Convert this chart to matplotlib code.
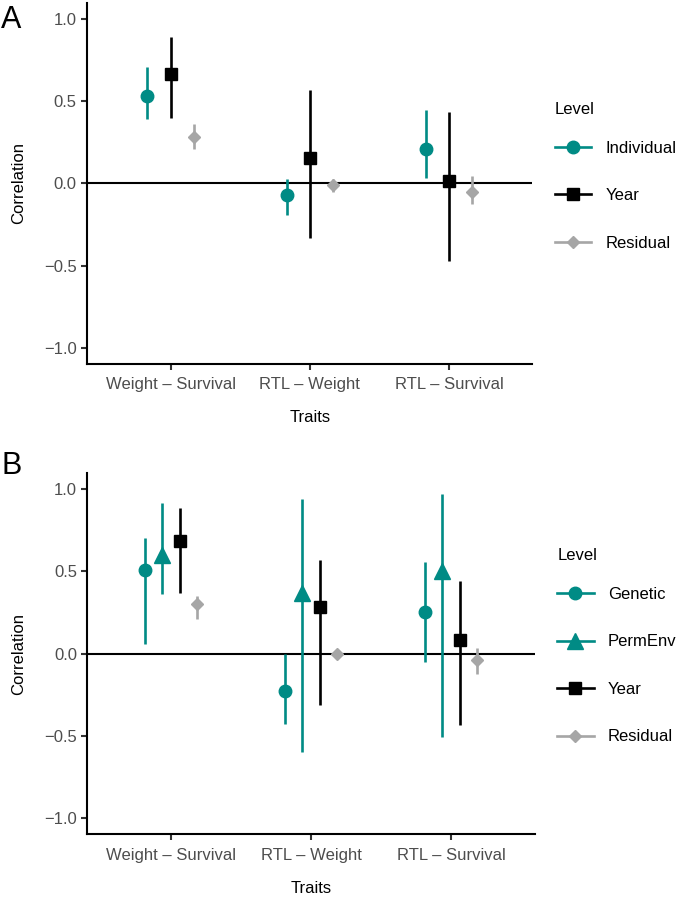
import matplotlib
matplotlib.use("Agg")
import matplotlib.pyplot as plt
from matplotlib.lines import Line2D
import numpy as np

plt.rcParams['font.family'] = ['Liberation Sans', 'DejaVu Sans']

traits = ["Weight \u2013 Survival", "RTL \u2013 Weight", "RTL \u2013 Survival"]

# panel A: phenotypic partitioning
levels_a = ["Individual", "Year", "Residual"]
est_a = [[0.53, -0.07, 0.21],
         [0.67, 0.155, 0.015],
         [0.285, -0.01, -0.05]]
low_a = [[0.39, -0.19, 0.035],
         [0.40, -0.335, -0.475],
         [0.21, -0.055, -0.125]]
up_a = [[0.71, 0.03, 0.445],
        [0.895, 0.57, 0.435],
        [0.365, 0.025, 0.045]]

# panel B: animal model
levels_b = ["Genetic", "PermEnv", "Year", "Residual"]
est_b = [[0.51, -0.23, 0.25],
         [0.60, 0.37, 0.50],
         [0.685, 0.285, 0.085],
         [0.30, 0.0, -0.04]]
low_b = [[0.06, -0.43, -0.05],
         [0.36, -0.60, -0.51],
         [0.37, -0.315, -0.435],
         [0.21, -0.03, -0.125]]
up_b = [[0.70, 0.0, 0.555],
        [0.915, 0.94, 0.97],
        [0.885, 0.57, 0.44],
        [0.35, 0.03, 0.035]]

teal = "#008B85"
grey = "#A6A6A6"
style = {"Individual": (teal, "o", 9),
         "Genetic": (teal, "o", 9),
         "PermEnv": (teal, "^", 11),
         "Year": ("black", "s", 8),
         "Residual": (grey, "D", 6.5)}
fs = 12


def panel(ax, levels, est, low, up):
    x = np.arange(1, len(traits) + 1)
    n = len(levels)
    width = 0.5
    ax.axhline(0, color="black", lw=1.5, zorder=1)
    for i, lev in enumerate(levels):
        off = -width / 2 + width / n * (i + 0.5)
        col, mk, ms = style[lev]
        e = np.array(est[i])
        ax.vlines(x + off, low[i], up[i], color=col, lw=1.9, zorder=2)
        ax.plot(x + off, e, ls="none", marker=mk, color=col, ms=ms, zorder=3)
    ax.set_xlim(0.4, 3.6)
    ax.set_ylim(-1.1, 1.1)
    ax.set_xticks(x)
    ax.set_xticklabels(traits)
    ax.set_yticks([-1.0, -0.5, 0.0, 0.5, 1.0])
    ax.set_yticklabels(["\u22121.0", "\u22120.5", "0.0", "0.5", "1.0"])
    for s in ["top", "right"]:
        ax.spines[s].set_visible(False)
    for s in ["left", "bottom"]:
        ax.spines[s].set_linewidth(1.5)
    ax.tick_params(colors="#333333", labelcolor="#4D4D4D", width=1.5, length=4,
                   labelsize=fs)
    ax.tick_params(axis="x", pad=5.5)
    ax.set_xlabel("Traits", fontsize=fs, labelpad=13)
    ax.set_ylabel("Correlation", fontsize=fs, labelpad=13)
    handles = [Line2D([], [], color=style[l][0], marker=style[l][1],
                      ms=style[l][2], lw=1.9) for l in levels]
    leg = ax.legend(handles, levels, title="Level", loc="center left",
                    bbox_to_anchor=(1.035, 0.52), frameon=False, fontsize=fs,
                    title_fontsize=fs, handlelength=2.2, labelspacing=1.95,
                    handletextpad=0.85, borderaxespad=0)
    leg._legend_box.align = "left"
    leg._legend_box.sep = 17


fig = plt.figure(figsize=(6.77, 8.98), dpi=100)
ax1 = fig.add_axes([0.1285, 0.5947, 0.658, 0.402])
ax2 = fig.add_axes([0.1290, 0.0709, 0.661, 0.4027])
panel(ax1, levels_a, est_a, low_a, up_a)
panel(ax2, levels_b, est_b, low_b, up_b)
fig.text(0.002, 1 - 5 / 898, "A", fontsize=22, va="top", ha="left")
fig.text(0.002, 1 - 451 / 898, "B", fontsize=22, va="top", ha="left")

fig.savefig("out.png", dpi=100)
